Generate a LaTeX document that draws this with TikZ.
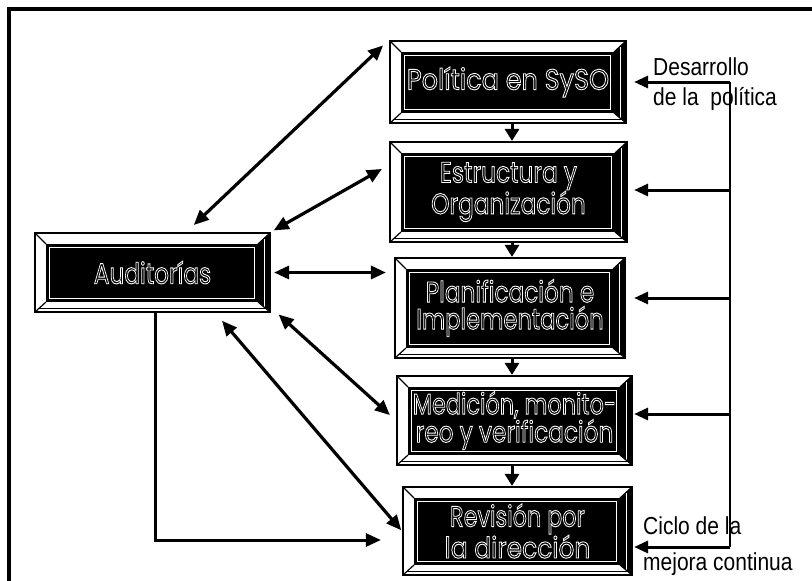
\documentclass[tikz,border=0pt]{standalone}
\usepackage{graphicx}
\usepackage{fontspec}
\setmainfont{Liberation Sans}
\newfontfamily\boxfont{Poppins}
\usetikzlibrary{arrows.meta,calc}

% hollow (stroked) white letters, condensed (optional horizontal scale)
\newcommand{\boxline}[2][0.8]{\scalebox{#1}[1]{\special{pdf:literal direct 1 Tr 0.9 w}#2\special{pdf:literal direct 0 Tr}}}
% side labels, a little taller than wide
\newcommand{\sidetext}[1]{\scalebox{1}[1.17]{#1}}

\tikzset{
  bevbox/.style={rectangle, draw=black, line width=2.2pt, fill=white, inner sep=0pt,
    text=white, align=center, font=\boxfont\fontsize{29}{27}\selectfont,
    path picture={
      \coordinate (bl) at (path picture bounding box.south west);
      \coordinate (tr) at (path picture bounding box.north east);
      \coordinate (br) at (bl -| tr);
      \coordinate (tl) at (bl |- tr);
      \coordinate (ibl) at ($(bl)+(11pt,10pt)$);
      \coordinate (itr) at ($(tr)+(-12pt,-11pt)$);
      \coordinate (ibr) at (ibl -| itr);
      \coordinate (itl) at (ibl |- itr);
      % shaded right bevel
      \fill[black] (br) -- (tr) -- (itr) -- (ibr) -- cycle;
      \draw[white, line width=0.8pt] ($(br)!0.5!(ibr)$) -- ($(tr)!0.5!(itr)$);
      % inner panel with its white rim
      \fill[black] (ibl) rectangle (itr);
      \draw[white, line width=1pt] ($(ibl)+(3.5pt,3.5pt)$) rectangle ($(itr)+(-3.5pt,-3.5pt)$);
      % mitred corners
      \draw[black, line width=1.2pt] (bl) -- (ibl) (tl) -- (itl) (tr) -- (itr) (br) -- (ibr);
      \draw[black, line width=0.8pt] ($(bl)+(4pt,4pt)$) -- ($(br)+(-4pt,4pt)$);
    }},
  link/.style={line width=3.2pt, {Triangle[length=15pt,width=13pt]}-{Triangle[length=15pt,width=13pt]}},
  onearrow/.style={line width=3pt, -{Triangle[length=15pt,width=13pt]}},
  down/.style={line width=3pt, -{Triangle[length=12pt,width=14pt]}},
  feed/.style={line width=3pt, -{Triangle[length=14pt,width=12pt]}},
  side/.style={anchor=base west, inner sep=0pt, font=\fontsize{21}{21}\selectfont},
}

\begin{document}
\begin{tikzpicture}[x=1pt,y=-1pt]
\useasboundingbox (0,0) rectangle (812,581);
\clip (0,0) rectangle (812,581);
\fill[white] (0,0) rectangle (812,581);

% outer frame
\draw[line width=4pt] (9,600) -- (9,9) -- (830,9);

% process boxes
\node[bevbox, minimum width=236pt, minimum height=82pt] (pol) at (508,82)
  {\boxline[0.88]{Política en SySO}};
\node[bevbox, minimum width=237pt, minimum height=100pt] (est) at (508.5,192)
  {\boxline{Estructura y}\\\boxline{Organización}};
\node[bevbox, minimum width=230pt, minimum height=100pt] (pla) at (510,308)
  {\boxline{Planificación e}\\\boxline[0.78]{Implementación}};
\node[bevbox, minimum width=235pt, minimum height=89pt] (med) at (514.5,420.5)
  {\boxline[0.77]{Medición, monito-}\\\boxline[0.8]{reo y verificación}};
\node[bevbox, minimum width=229pt, minimum height=88pt] (rev) at (517.5,531)
  {\boxline[0.77]{Revisión por}\\\boxline[0.86]{la dirección}};
\node[bevbox, minimum width=235pt, minimum height=79pt] (aud) at (152.5,272.5)
  {\boxline{Auditorías}};

% main sequence
\coordinate (axis) at (512,0);
\draw[down] (axis |- pol.south) -- (axis |- est.north);
\draw[down] (axis |- est.south) -- (axis |- pla.north);
\draw[down] (axis |- pla.south) -- (axis |- med.north);
\draw[down] (axis |- med.south) -- (axis |- rev.north);

% audit links
\draw[link, shorten <=10pt, shorten >=8pt] ([xshift=34pt]aud.north) -- (pol.north west);
\draw[link, shorten <=3pt, shorten >=8pt] (aud.north east) -- ([yshift=27pt]est.west);
\draw[link, shorten <=3pt, shorten >=8pt] (aud.east) -- (aud.east -| pla.west);
\draw[link, shorten <=2pt, shorten >=8pt] ([xshift=6pt]aud.south east) -- (med.west);
\draw[link, shorten <=10pt, shorten >=1pt] ([xshift=63pt]aud.south) -- (rev.west);
\draw[onearrow] ([xshift=2.5pt]aud.south) |- ([xshift=-21pt,yshift=-9pt]rev.west);

% continual improvement loop
\coordinate (fbtop) at (730,82);
\coordinate (fbbot) at ([yshift=-16pt]rev.east -| fbtop);
\path ([yshift=2pt]est.east) coordinate (fe)
      ([yshift=10pt]pla.east) coordinate (fp)
      ([yshift=6.5pt]med.east) coordinate (fm);
\draw[line width=2pt] (fbtop) -- (fbbot);
\draw[feed, shorten >=7pt] (fbtop) -- (fbtop -| pol.east);
\draw[feed, shorten >=6pt] (fbtop |- fe) -- (fe);
\draw[feed, shorten >=8pt] (fbtop |- fp) -- (fp);
\draw[feed, shorten >=1pt] (fbtop |- fm) -- (fm);
\draw[feed, shorten >=1pt] (fbbot) -- (fbbot -| rev.east);

% loop labels
\node[side] (d1) at (653,75) {\sidetext{Desarrollo}};
\node[side] (d2) at (653,105) {\sidetext{de la\ \ política}};
\node[side] (c1) at (643,534) {\sidetext{Ciclo de la}};
\node[side] (c2) at (643,570) {\sidetext{mejora continua}};
\end{tikzpicture}
\end{document}
